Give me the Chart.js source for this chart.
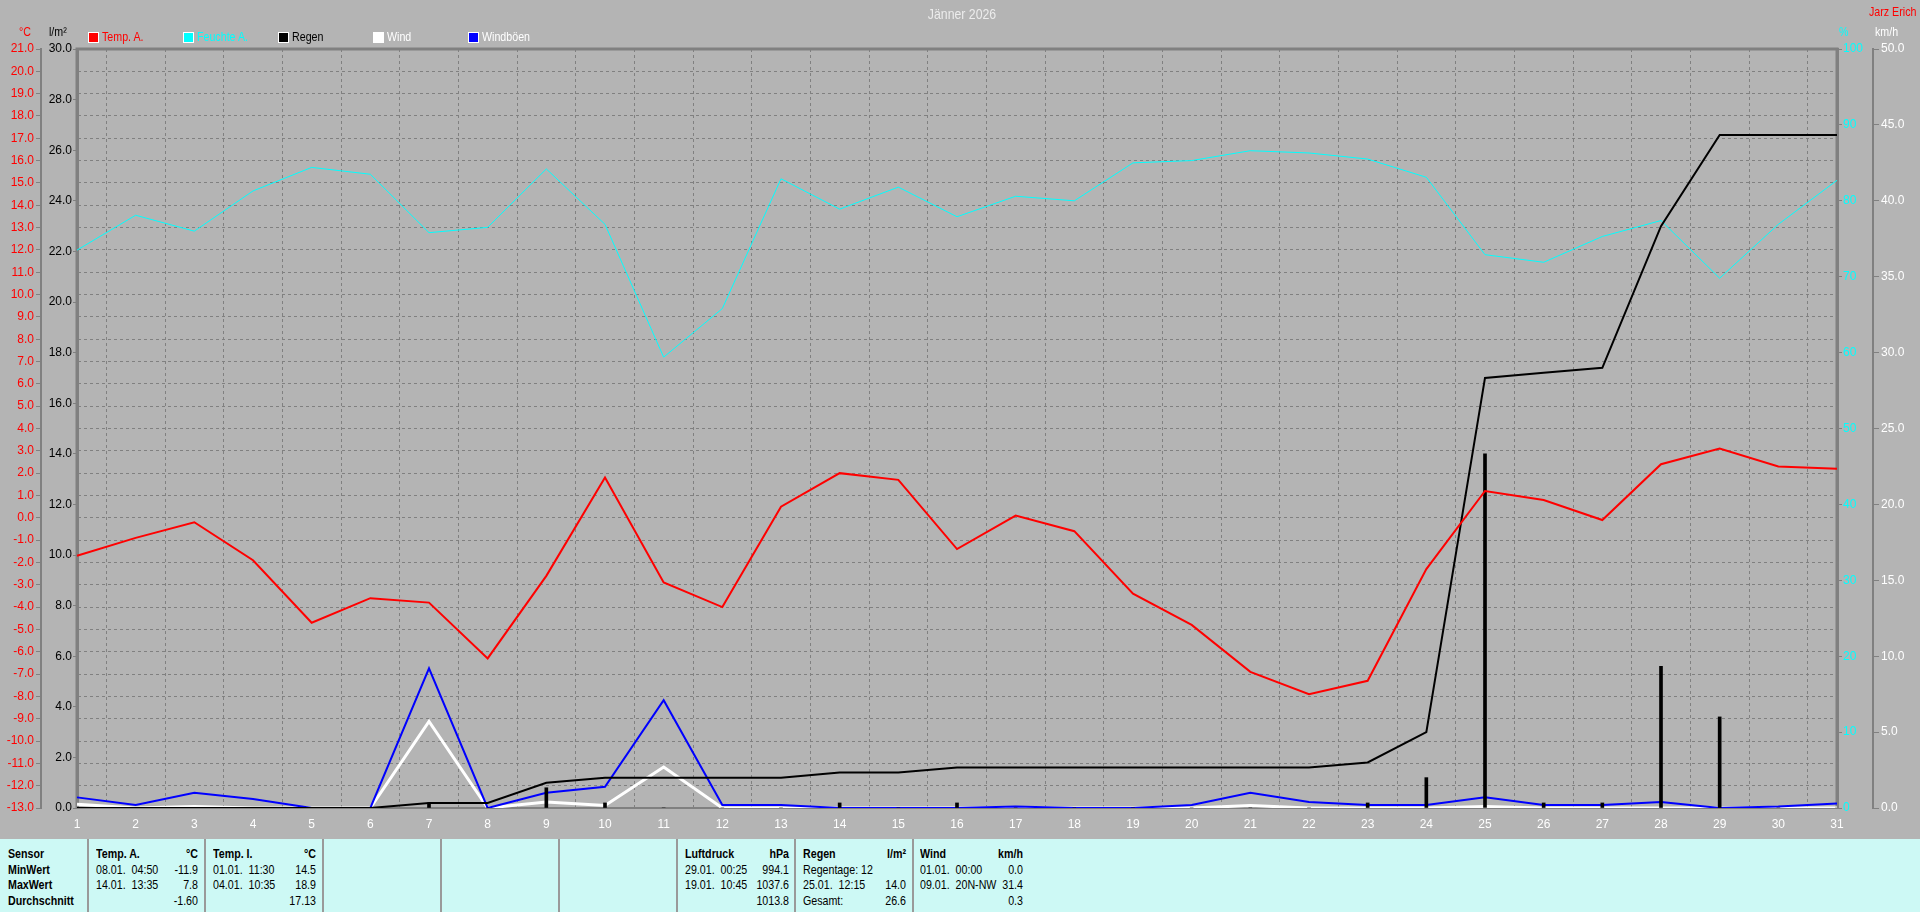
<!DOCTYPE html>
<html><head><meta charset="utf-8">
<script src="https://cdn.jsdelivr.net/npm/chart.js@4.4.1/dist/chart.umd.min.js"></script>
<style>
html,body{margin:0;padding:0;background:#b4b4b4;width:1920px;height:912px;overflow:hidden;}
body{font-family:"Liberation Sans Narrow","Arial Narrow","Liberation Sans",Arial,sans-serif;}
#wrap{position:relative;width:1920px;height:912px;overflow:hidden;}
#c{position:absolute;left:0;top:0;}
.t{position:absolute;font-size:13px;white-space:nowrap;line-height:16px;transform:scaleX(0.82);transform-origin:0 50%;}
.sq{position:absolute;width:9px;height:9px;border:1px solid #fff;}
#tbl{position:absolute;left:0;top:839px;width:1920px;height:73px;background:#cdf9f5;}
.vl{position:absolute;top:0;width:2px;height:73px;background:#9a9a9a;}
.cell{position:absolute;top:7px;font-size:13px;line-height:15.5px;color:#000;transform:scaleX(0.82);transform-origin:0 0;}
.cell div{white-space:nowrap;height:15.5px;}
.b{font-weight:bold;}
.r{text-align:right;}
</style>
</head><body><div id="wrap">
<canvas id="c" width="1920" height="839"></canvas>

<div class="t" style="left:0;width:1924px;text-align:center;top:6px;font-size:15px;color:#ececec;transform-origin:50% 50%;">Jänner 2026</div>
<div class="t" style="left:1869px;top:4px;color:#ff0000;">Jarz Erich</div>
<div class="t" style="left:19px;top:24px;color:#ff0000;">°C</div>
<div class="t" style="left:49px;top:24px;color:#000;">l/m²</div>
<div class="t" style="left:1839px;top:24px;color:#00ffff;">%</div>
<div class="t" style="left:1875px;top:24px;color:#ffffff;">km/h</div>

<div id="legend"></div>

<div id="tbl">
  <div class="vl" style="left:87px"></div>
  <div class="vl" style="left:204px"></div>
  <div class="vl" style="left:322px"></div>
  <div class="vl" style="left:440px"></div>
  <div class="vl" style="left:558px"></div>
  <div class="vl" style="left:676px"></div>
  <div class="vl" style="left:794px"></div>
  <div class="vl" style="left:912px"></div>
  <div id="cells"></div>
</div>
</div>
<script>
// ---- data ----
const days = ['1','2','3','4','5','6','7','8','9','10','11','12','13','14','15','16','17','18','19','20','21','22','23','24','25','26','27','28','29','30','31'];
const tempA = [-1.7,-0.9,-0.2,-1.9,-4.7,-3.6,-3.8,-6.3,-2.6,1.8,-2.9,-4.0,0.5,2.0,1.7,-1.4,0.1,-0.6,-3.4,-4.8,-6.9,-7.9,-7.3,-2.3,1.2,0.8,-0.1,2.4,3.1,2.3,2.2];
const humidity = [73.5,78.1,76.0,81.3,84.4,83.5,75.8,76.5,84.2,76.9,59.4,65.8,82.9,78.9,81.8,77.9,80.6,80.0,85.0,85.3,86.6,86.3,85.5,83.1,72.9,71.9,75.3,77.4,69.8,76.9,82.7];
const rainSum = [0,0,0,0,0,0,0.2,0.2,1.0,1.2,1.2,1.2,1.2,1.4,1.4,1.6,1.6,1.6,1.6,1.6,1.6,1.6,1.8,3.0,17.0,17.2,17.4,23.0,26.6,26.6,26.6];
const rainDay = [0,0,0,0,0,0,0.2,0,0.8,0.2,0,0,0,0.2,0,0.2,0,0,0,0,0,0,0.2,1.2,14.0,0.2,0.2,5.6,3.6,0,0];
const wind = [0.24,0,0.1,0,0,0,5.7,0,0.4,0.16,2.7,0,0,0,0,0,0,0,0,0,0.16,0,0,0,0.1,0,0,0,0,0,0];
const gust = [0.7,0.2,1.0,0.6,0,0,9.2,0,1.0,1.4,7.1,0.2,0.2,0,0,0,0.1,0,0,0.2,1.0,0.4,0.2,0.2,0.7,0.2,0.2,0.4,0,0.1,0.3];

const legendItems = [['Temp. A.','#ff0000'],['Feuchte A.','#00ffff'],['Regen','#000000'],['Wind','#ffffff'],['Windböen','#0000ff']];
const legendTextColors = ['#ff0000','#00ffff','#000000','#ffffff','#ffffff'];

// summary table
const tableCols = [
  {x:8,  w:78,  rows:[['Sensor',''],['MinWert',''],['MaxWert',''],['Durchschnitt','']], boldAll:true},
  {x:96, w:102, rows:[['Temp. A.','°C'],['08.01.&nbsp; 04:50','-11.9'],['14.01.&nbsp; 13:35','7.8'],['','-1.60']]},
  {x:213,w:103, rows:[['Temp. I.','°C'],['01.01.&nbsp; 11:30','14.5'],['04.01.&nbsp; 10:35','18.9'],['','17.13']]},
  {x:685,w:104, rows:[['Luftdruck','hPa'],['29.01.&nbsp; 00:25','994.1'],['19.01.&nbsp; 10:45','1037.6'],['','1013.8']]},
  {x:803,w:103, rows:[['Regen','l/m²'],['Regentage: 12',''],['25.01.&nbsp; 12:15','14.0'],['Gesamt:','26.6']]},
  {x:920,w:103, rows:[['Wind','km/h'],['01.01.&nbsp; 00:00','0.0'],['09.01.&nbsp; 20N-NW','31.4'],['','0.3']]}
];

// ---- legend ----
const lg = document.getElementById('legend');
legendItems.forEach((it,i)=>{
  const x = 88 + 95*i;
  const s = document.createElement('div'); s.className='sq';
  s.style.left = x+'px'; s.style.top='32px'; s.style.background=it[1];
  lg.appendChild(s);
  const t = document.createElement('div'); t.className='t';
  t.style.left=(x+14)+'px'; t.style.top='29px'; t.style.color=legendTextColors[i];
  t.textContent = it[0]; lg.appendChild(t);
});

// ---- table ----
const SX = 0.82;
const cells = document.getElementById('cells');
tableCols.forEach(c=>{
  const l = document.createElement('div'); l.className='cell'; l.style.left=c.x+'px'; l.style.width=(c.w/SX)+'px';
  const r = document.createElement('div'); r.className='cell r'; r.style.left=c.x+'px'; r.style.width=(c.w/SX)+'px';
  c.rows.forEach((row,i)=>{
    const a=document.createElement('div'); a.innerHTML=row[0]||'&nbsp;'; if(i===0||c.boldAll) a.className='b'; l.appendChild(a);
    const b=document.createElement('div'); b.innerHTML=row[1]||'&nbsp;'; if(i===0) b.className='b'; r.appendChild(b);
  });
  cells.appendChild(l); cells.appendChild(r);
});

// ---- chart ----
const GRID = '#808080';
Chart.defaults.font.family = '"Liberation Sans Narrow","Arial Narrow","Liberation Sans",Arial,sans-serif';
Chart.defaults.font.size = 12;

const framePlugin = {
  id:'frame',
  beforeDraw(chart){const c=chart.ctx;c.save();c.fillStyle='#b4b4b4';c.fillRect(0,0,chart.width,chart.height);c.restore();},
  beforeDatasetsDraw(chart){
    const c=chart.ctx,a=chart.chartArea;c.save();c.strokeStyle=GRID;c.lineWidth=3;
    c.beginPath();c.moveTo(a.left,a.bottom);c.lineTo(a.left,a.top);c.lineTo(a.right,a.top);c.lineTo(a.right,a.bottom);c.stroke();
    c.lineWidth=2;c.beginPath();c.moveTo(a.left,a.bottom);c.lineTo(a.right,a.bottom);c.stroke();
    c.restore();
  }
};

new Chart(document.getElementById('c'), {
  type:'line',
  data:{
    labels: days,
    datasets:[
      {type:'line',label:'Temp. A.',data:tempA,yAxisID:'yT',borderColor:'#ff0000',borderWidth:2,pointRadius:0,tension:0,order:1},
      {type:'line',label:'Regen',data:rainSum,yAxisID:'yR',borderColor:'#000000',borderWidth:2,pointRadius:0,tension:0,order:2},
      {type:'bar',label:'Regen Tag',data:rainDay,yAxisID:'yR',backgroundColor:'#000000',barThickness:3,order:3},
      {type:'line',label:'Windböen',data:gust,yAxisID:'yW',borderColor:'#0000ff',borderWidth:2,pointRadius:0,tension:0,order:4},
      {type:'line',label:'Wind',data:wind,yAxisID:'yW',borderColor:'#ffffff',borderWidth:3,pointRadius:0,tension:0,order:5},
      {type:'line',label:'Feuchte A.',data:humidity,yAxisID:'yH',borderColor:'#00ffff',borderWidth:1,pointRadius:0,tension:0,order:6}
    ]
  },
  options:{
    responsive:false, animation:false, devicePixelRatio:1,
    layout:{padding:{top:49,left:0,right:0,bottom:0}},
    plugins:{legend:{display:false},title:{display:false},tooltip:{enabled:false}},
    scales:{
      x:{type:'category',offset:false,
         grid:{color:GRID,drawTicks:false,lineWidth:1},
         border:{display:true,color:GRID,width:2,dash:[3,3]},
         ticks:{color:'#ffffff',padding:9,autoSkip:false,maxRotation:0},
         afterFit:s=>{s.height=31;}},
      yT:{type:'linear',position:'left',weight:1,min:-13,max:21,
         ticks:{stepSize:1,color:'#ff0000',autoSkip:false,padding:2,callback:v=>v.toFixed(1)},
         grid:{color:GRID,tickColor:GRID,tickLength:5,lineWidth:1,drawOnChartArea:true},
         border:{display:true,color:GRID,width:2,dash:[3,3]},
         afterFit:s=>{s.width=41;}},
      yR:{type:'linear',position:'left',weight:0,min:0,max:30,
         ticks:{stepSize:2,color:'#000000',autoSkip:false,padding:1,callback:v=>v.toFixed(1)},
         grid:{drawOnChartArea:false,tickColor:GRID,tickLength:4},
         border:{display:true,color:GRID,width:3},
         afterFit:s=>{s.width=36;}},
      yH:{type:'linear',position:'right',weight:0,min:0,max:100,
         ticks:{stepSize:10,color:'#00ffff',autoSkip:false,padding:1},
         grid:{drawOnChartArea:false,tickColor:GRID,tickLength:5},
         border:{display:true,color:GRID,width:3},
         afterFit:s=>{s.width=36;}},
      yW:{type:'linear',position:'right',weight:1,min:0,max:50,
         ticks:{stepSize:5,color:'#ffffff',autoSkip:false,padding:2,callback:v=>v.toFixed(1)},
         grid:{drawOnChartArea:false,tickColor:GRID,tickLength:6},
         border:{display:true,color:GRID,width:2},
         afterFit:s=>{s.width=47;}}
    }
  },
  plugins:[framePlugin]
});
</script>
</body></html>
